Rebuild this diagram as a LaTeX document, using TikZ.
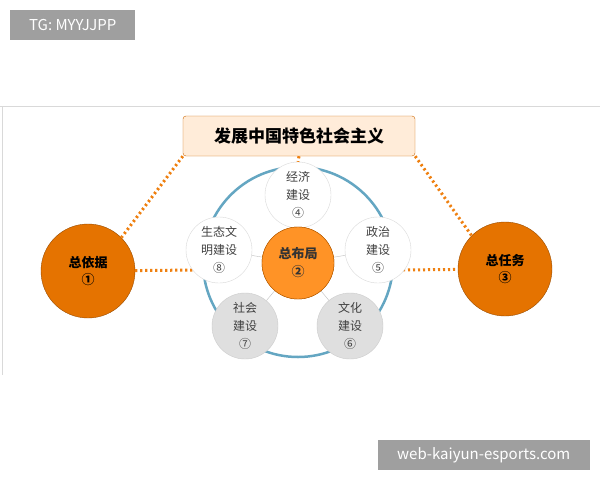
\documentclass[tikz,border=0pt]{standalone}
\usepackage{fontspec}
\setmainfont{Noto Sans CJK SC}
\begin{document}
\begin{tikzpicture}[x=1pt,y=-1pt,
  dots/.style={draw=orange!75!brown,line width=3pt,dash pattern=on 2.2pt off 2.8pt},
  big/.style={circle,minimum size=94pt,fill=orange!90!black,draw=orange!60!black,font=\bfseries\fontsize{13}{17}\selectfont,align=center,inner sep=0pt},
  sat/.style={circle,minimum size=66pt,fill=white,draw=gray!30,font=\fontsize{12}{18}\selectfont,text=black!75,align=center,inner sep=0pt},
  gsat/.style={sat,fill=gray!25,draw=gray!40},
  cen/.style={circle,minimum size=72pt,fill=orange!85,draw=orange!70!black,font=\bfseries\fontsize{13}{18}\selectfont,text=black!80,align=center,inner sep=0pt},
  tag/.style={fill=gray!75,text=white,font=\fontsize{15}{17}\selectfont,inner ysep=7pt,minimum height=30pt,anchor=north west}]
\useasboundingbox (0,0) rectangle (600,480);
\fill[white] (0,0) rectangle (600,480);
\draw[gray!30] (0,106) -- (600,106);
\draw[gray!30] (2,106) -- (2,375);
\node[tag,minimum width=125pt] (tg) at (10,10) {TG: MYYJJPP};
\node[tag,minimum width=212pt,anchor=south east] (web) at (590,470) {web-kaiyun-esports.com};
\node[draw=orange!80!black,fill=orange!15,rounded corners=3pt,minimum width=232pt,minimum height=40pt,font=\bfseries\fontsize{17}{20}\selectfont] (title) at (299,136) {发展中国特色社会主义};
\node[big] (L) at (88,271) {总依据\\①};
\node[big] (R) at (505,269) {总任务\\③};
\draw[cyan!50!gray,line width=2.5pt] (298,262) circle (95);
\coordinate (lh) at (198,270);
\coordinate (rh) at (398,270);
\draw[dots] (L) -- (lh);
\draw[dots] (rh) -- (R);
\draw[dots] (title.south west) -- (L.45);
\draw[dots] (title.south east) -- (R.135);
\node[sat] (s4) at (298,195) {经济\\建设\\④};
\draw[dots] (title.south) -- (s4.north);
\node[sat] (s5) at (378,250) {政治\\建设\\⑤};
\node[sat] (s8) at (219,250) {生态文\\明建设\\⑧};
\node[gsat] (s6) at (350,326) {文化\\建设\\⑥};
\node[gsat] (s7) at (245,326) {社会\\建设\\⑦};
\node[cen] (C) at (298,263) {总布局\\②};
\foreach \s in {s4,s5,s6,s7,s8} \draw[gray!50] (C) -- (\s);
\node[cen] at (C) {总布局\\②};
\end{tikzpicture}
\end{document}
